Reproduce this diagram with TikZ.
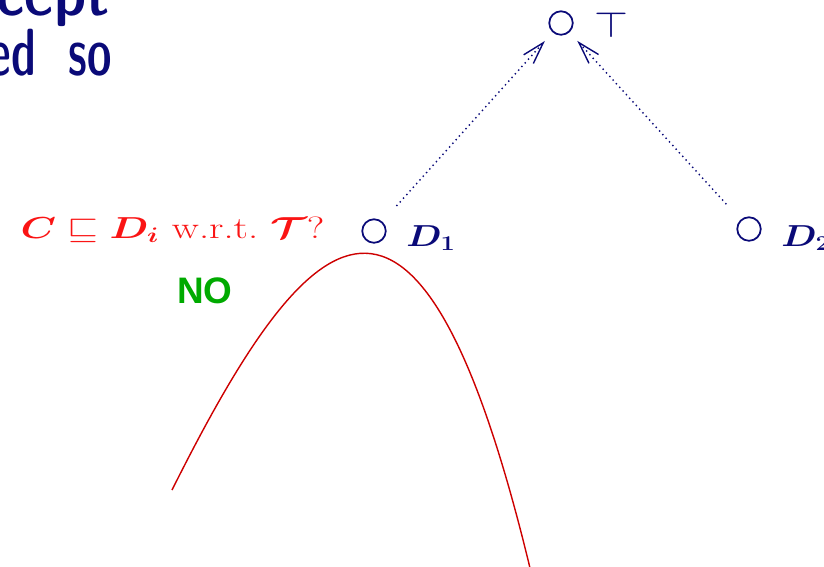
\documentclass[tikz,border=0pt]{standalone}
\usepackage{fontspec}
\usepackage{amsmath,bm}
\newfontfamily\answerfont{Liberation Sans}
\usetikzlibrary{arrows.meta, positioning}
\definecolor{slidenavy}{RGB}{10,10,120}
\definecolor{slidered}{RGB}{250,20,20}
\definecolor{curvered}{RGB}{205,0,0}
\definecolor{slidegreen}{RGB}{0,170,0}

\begin{document}
\begin{tikzpicture}[x=0.02cm, y=-0.02cm]
    \tikzstyle{conceptdot}=[draw=slidenavy, circle, line width=1pt, minimum size=0.47cm, inner sep=0pt]
    \tikzstyle{conceptname}=[text=slidenavy, font=\fontsize{17}{21}\selectfont, inner sep=0pt, xscale=1.2, transform shape]
    \tikzstyle{subsumes}=[draw=slidenavy, dotted, line width=0.8pt, -{Straight Barb[length=0.44cm, width=0.26cm]}, shorten >=0.23cm, shorten <=0.42cm]
    \tikzstyle{slidetext}=[text=slidenavy, font=\fontsize{38}{44}\fontseries{sbc}\sffamily\selectfont, inner sep=0pt, xscale=0.77, transform shape]

    \useasboundingbox[clip] (0,0) rectangle (824,566);

    \node[slidetext, xscale=1.3, anchor=base east] (line1) at (110,15) {ncept};
    \node[slidetext, anchor=base east] (line2) at (112,75) {ed\ \ so};

    \node[conceptdot] (top) at (561,23) {};
    \node[conceptdot] (d1) at (374,231) {};
    \node[conceptdot] (d2) at (749,229) {};

    \node[conceptname, font=\fontsize{21}{25}\selectfont, anchor=base west] (toplabel) at (594,37) {$\top$};
    \node[conceptname, anchor=base west] (d1label) at (406,246) {$\bm{D_1}$};
    \node[conceptname, anchor=base west] (d2label) at (781,246) {$\bm{D_2}$};

    \node[conceptname, text=slidered, font=\fontsize{17.5}{21}\selectfont, xscale=1.1, anchor=base east] (query) at (325,238)
        {$\bm{C} \sqsubseteq \bm{D_i}$ w.r.t.\ $\bm{\mathcal{T}}$?};
    \node[text=slidegreen, font=\fontsize{21}{25}\answerfont\bfseries] (answer) at (205,291) {NO};

    \draw[subsumes] (d1) -- (top);
    \draw[subsumes] (d2) -- (top);

    \draw[curvered, line width=0.8pt] (172,490) .. controls (308,218) and (418,105) .. (530,568);
\end{tikzpicture}
\end{document}
